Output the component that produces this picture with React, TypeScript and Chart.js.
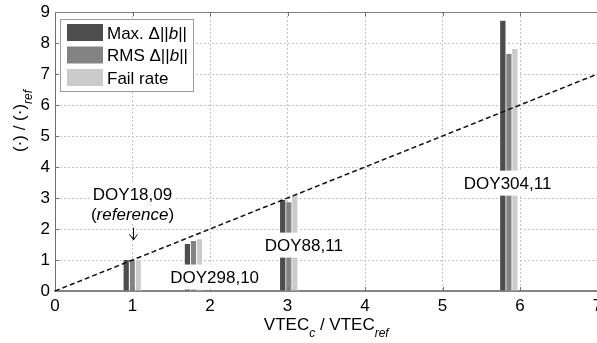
import { useEffect, useRef } from "react";
import { Chart, registerables } from "chart.js";

Chart.register(...registerables);

const FAMILY = '"Liberation Sans", Arial, Helvetica, sans-serif';

// ---- data ----
const groupX = [1, 1.79, 3.02, 5.86];
const maxDelta = [1, 1.52, 2.94, 8.72];
const rmsDelta = [1, 1.61, 2.86, 7.65];
const failRate = [1, 1.67, 3.09, 7.81];
const seriesColors = ["#4d4d4d", "#838383", "#cbcbcb"];
const refLine = [
  { x: 0, y: 0 },
  { x: 7, y: 7 },
];
const xRange = [0, 7];
const yRange = [0, 9];
const groupLabels = ["DOY18,09", "DOY298,10", "DOY88,11", "DOY304,11"];
const groupLabelX = [1, 2.06, 3.21, 5.84];
const groupLabelY = [3.13, 0.45, 1.48, 3.48];
const refNoteY = 2.48;
const arrowY = [2.04, 1.65];

type Part = { t: string; it?: boolean; sub?: boolean };
const legendParts: Part[][] = [
  [{ t: "Max. \u0394||" }, { t: "b", it: true }, { t: "||" }],
  [{ t: "RMS \u0394||" }, { t: "b", it: true }, { t: "||" }],
  [{ t: "Fail rate" }],
];
const xTitle: Part[] = [
  { t: "VTEC" },
  { t: "c", it: true, sub: true },
  { t: " / VTEC" },
  { t: "ref", it: true, sub: true },
];
const yTitle: Part[] = [{ t: "(\u00b7) / (\u00b7)" }, { t: "ref", it: true, sub: true }];
const refNote: Part[] = [{ t: "(" }, { t: "reference", it: true }, { t: ")" }];

function drawRich(
  ctx: CanvasRenderingContext2D,
  parts: Part[],
  x: number,
  y: number,
  size: number,
  align: "left" | "center"
) {
  const subSize = Math.round(size * 0.72);
  const fontOf = (p: Part) => `${p.it ? "italic " : ""}${p.sub ? subSize : size}px ${FAMILY}`;
  const widths = parts.map((p) => {
    ctx.font = fontOf(p);
    return ctx.measureText(p.t).width;
  });
  const total = widths.reduce((s, w) => s + w, 0);
  let cx = align === "center" ? x - total / 2 : x;
  ctx.textAlign = "left";
  ctx.textBaseline = "alphabetic";
  parts.forEach((p, i) => {
    ctx.font = fontOf(p);
    ctx.fillText(p.t, cx, y + (p.sub ? size * 0.4 : 0));
    cx += widths[i];
  });
  return total;
}

function measureRich(ctx: CanvasRenderingContext2D, parts: Part[], size: number) {
  const subSize = Math.round(size * 0.72);
  return parts.reduce((s, p) => {
    ctx.font = `${p.it ? "italic " : ""}${p.sub ? subSize : size}px ${FAMILY}`;
    return s + ctx.measureText(p.t).width;
  }, 0);
}

const overlayPlugin = {
  id: "overlay",
  afterDraw(chart: any) {
    const { ctx, chartArea: a, scales } = chart;
    const xs = scales.x;
    const ys = scales.y;
    ctx.save();

    // top border
    ctx.strokeStyle = "#808080";
    ctx.lineWidth = 1;
    ctx.setLineDash([]);
    ctx.beginPath();
    ctx.moveTo(a.left, a.top + 0.5);
    ctx.lineTo(a.right, a.top + 0.5);
    ctx.stroke();

    // inward tick marks
    ctx.strokeStyle = "#707070";
    ctx.beginPath();
    for (let v = yRange[0] + 1; v < yRange[1]; v++) {
      const py = Math.round(ys.getPixelForValue(v)) + 0.5;
      ctx.moveTo(a.left, py);
      ctx.lineTo(a.left + 4, py);
    }
    for (let v = xRange[0] + 1; v < xRange[1]; v++) {
      const px = Math.round(xs.getPixelForValue(v)) + 0.5;
      ctx.moveTo(px, a.top);
      ctx.lineTo(px, a.top + 4);
      ctx.moveTo(px, a.bottom);
      ctx.lineTo(px, a.bottom - 4);
    }
    ctx.stroke();

    // group annotations with white backgrounds
    const size = 17;
    const capOff = 6.1;
    ctx.fillStyle = "#000";
    groupLabels.forEach((txt, i) => {
      const px = xs.getPixelForValue(groupLabelX[i]);
      const py = ys.getPixelForValue(groupLabelY[i]);
      ctx.font = `${size}px ${FAMILY}`;
      const w = ctx.measureText(txt).width;
      ctx.fillStyle = "#fff";
      ctx.fillRect(px - w / 2 - 3, py - 12.5, w + 6, 25);
      ctx.fillStyle = "#000";
      drawRich(ctx, [{ t: txt }], px, py + capOff, size, "center");
    });
    {
      const px = xs.getPixelForValue(groupLabelX[0]);
      const py = ys.getPixelForValue(refNoteY);
      const w = measureRich(ctx, refNote, size);
      ctx.fillStyle = "#fff";
      ctx.fillRect(px - w / 2 - 3, py - 9, w + 6, 18);
      ctx.fillStyle = "#000";
      drawRich(ctx, refNote, px, py + capOff, size, "center");
      // arrow
      const top = ys.getPixelForValue(arrowY[0]);
      const bot = ys.getPixelForValue(arrowY[1]);
      const ax = Math.round(px) + 0.5;
      ctx.strokeStyle = "#000";
      ctx.lineWidth = 1;
      ctx.beginPath();
      ctx.moveTo(ax, top);
      ctx.lineTo(ax, bot);
      ctx.moveTo(ax - 4, bot - 5.5);
      ctx.lineTo(ax, bot);
      ctx.lineTo(ax + 4, bot - 5.5);
      ctx.stroke();
    }

    // legend
    const lx = a.left + 5;
    const ly = a.top + 7;
    ctx.fillStyle = "#fff";
    ctx.fillRect(lx, ly, 133, 72);
    ctx.strokeStyle = "#9a9a9a";
    ctx.lineWidth = 1;
    ctx.strokeRect(lx + 0.5, ly + 0.5, 133, 72);
    legendParts.forEach((parts, i) => {
      const rowY = ly + 13.5 + i * 22.5;
      ctx.fillStyle = seriesColors[i];
      ctx.fillRect(lx + 7, rowY - 8.5, 36, 17);
      ctx.fillStyle = "#000";
      drawRich(ctx, parts, lx + 47, rowY + capOff, 17, "left");
    });

    // axis titles
    ctx.fillStyle = "#000";
    drawRich(ctx, xTitle, (a.left + a.right) / 2, 330, 17, "center");
    ctx.save();
    ctx.translate(25, 121);
    ctx.rotate(-Math.PI / 2);
    drawRich(ctx, yTitle, 0, 0, 17, "center");
    ctx.restore();

    ctx.restore();
  },
};

export default function App() {
  const ref = useRef<HTMLCanvasElement | null>(null);

  useEffect(() => {
    if (!ref.current) return;
    Chart.defaults.font.family = FAMILY;
    const barDs = (label: string, values: number[], color: string) => ({
      type: "bar" as const,
      label,
      data: groupX.map((x, i) => ({ x, y: values[i] })),
      backgroundColor: color,
      borderColor: "#ffffff",
      borderWidth: { top: 0, right: 1, bottom: 0, left: 0 },
      borderSkipped: false as const,
      barThickness: 6,
      order: 1,
    });
    const chart = new Chart(ref.current, {
      type: "bar",
      data: {
        datasets: [
          {
            type: "line",
            label: "ref",
            data: refLine,
            borderColor: "#111111",
            borderWidth: 1.5,
            borderDash: [5, 3],
            pointRadius: 0,
            fill: false,
            order: 0,
          } as any,
          barDs("Max", maxDelta, seriesColors[0]),
          barDs("RMS", rmsDelta, seriesColors[1]),
          barDs("Fail", failRate, seriesColors[2]),
        ],
      },
      options: {
        animation: false,
        responsive: true,
        maintainAspectRatio: false,
        layout: { padding: { left: 0, top: 12, right: 42.5, bottom: 0 } },
        plugins: { legend: { display: false }, tooltip: { enabled: false } },
        scales: {
          x: {
            type: "linear",
            min: xRange[0],
            max: xRange[1],
            offset: false,
            grid: { color: "#c4c4c4", lineWidth: 1, drawTicks: false, offset: false },
            border: { display: true, color: "#858585", width: 2, dash: [2, 2] },
            ticks: { stepSize: 1, color: "#000", font: { size: 17 }, padding: 5 },
            afterFit(scale: any) {
              scale.height = 52;
              scale.paddingLeft = 0;
              scale.paddingRight = 0;
            },
          },
          y: {
            type: "linear",
            min: yRange[0],
            max: yRange[1],
            grid: { color: "#c4c4c4", lineWidth: 1, drawTicks: false },
            border: { display: true, color: "#6e6e6e", width: 1, dash: [2, 2] },
            ticks: { stepSize: 1, color: "#000", font: { size: 17 }, padding: 5 },
            afterFit(scale: any) {
              scale.width = 55;
              scale.paddingTop = 0;
              scale.paddingBottom = 0;
            },
          },
        },
      } as any,
      plugins: [overlayPlugin],
    });
    return () => chart.destroy();
  }, []);

  return (
    <div
      style={{
        position: "fixed",
        left: 0,
        top: 0,
        width: 597,
        height: 343,
        overflow: "hidden",
        background: "#fff",
      }}
    >
      <div style={{ position: "absolute", left: 0, top: 0, width: 640, height: 343 }}>
        <canvas ref={ref} />
      </div>
    </div>
  );
}
